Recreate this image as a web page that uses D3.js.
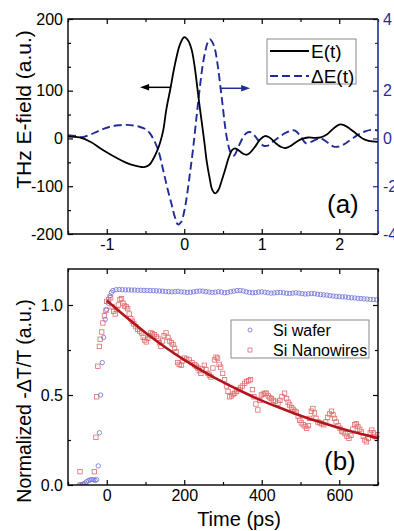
<!DOCTYPE html>
<html>
<head>
<meta charset="utf-8">
<script src="https://cdn.jsdelivr.net/npm/d3@7"></script>
<style>
body { margin: 0; background: #fff; }
svg { display: block; font-family: "Liberation Sans", Arial, sans-serif; }
</style>
</head>
<body>
<div id="chart"></div>
<script>
// ---- panel (a): THz waveform, t in ps ----
const eField = [
  [-1.5, 4], [-1.35, 2], [-1.2, -8], [-1.09, -20], [-0.98, -31], [-0.87, -41], [-0.76, -50],
  [-0.66, -56], [-0.52, -60], [-0.45, -55], [-0.40, -43], [-0.35, -26], [-0.31, -8], [-0.27, 18],
  [-0.23, 62], [-0.18, 103], [-0.14, 139], [-0.10, 170], [-0.055, 197], [0.0, 212], [0.05, 205],
  [0.095, 186], [0.13, 155], [0.16, 118], [0.19, 78], [0.225, 35], [0.26, -8], [0.29, -48],
  [0.33, -85], [0.36, -107], [0.40, -115], [0.44, -108], [0.48, -90], [0.53, -64], [0.57, -42],
  [0.62, -24], [0.66, -21], [0.71, -26], [0.76, -32], [0.81, -34], [0.86, -28], [0.92, -16],
  [0.98, -2], [1.04, 5], [1.10, 2], [1.18, -10], [1.25, -18], [1.31, -20], [1.38, -15],
  [1.45, -7], [1.52, -1], [1.60, 2], [1.68, 1], [1.76, 2], [1.84, 8], [1.92, 20], [2.0, 29],
  [2.06, 28], [2.14, 20], [2.22, 10], [2.30, 0], [2.38, -5], [2.5, -7]
];
const deltaE = [
  [-1.5, 0.14], [-1.4, 0.1], [-1.32, 0.05], [-1.22, 0.15], [-1.13, 0.28], [-1.04, 0.4], [-0.96, 0.49],
  [-0.85, 0.55], [-0.74, 0.57], [-0.65, 0.54], [-0.57, 0.48], [-0.485, 0.36], [-0.44, 0.2],
  [-0.38, -0.14], [-0.33, -0.55], [-0.27, -1.35], [-0.22, -2.05], [-0.16, -2.8], [-0.12, -3.3],
  [-0.08, -3.6], [-0.04, -3.5], [0.0, -3.05], [0.03, -2.5], [0.07, -1.55], [0.115, -0.4],
  [0.16, 0.95], [0.2, 2.1], [0.235, 3.0], [0.27, 3.63], [0.30, 4.0], [0.33, 4.15], [0.36, 4.05],
  [0.395, 3.75], [0.43, 3.1], [0.46, 2.35], [0.495, 1.4], [0.525, 0.55], [0.56, -0.15], [0.6, -0.6],
  [0.64, -0.72], [0.68, -0.5], [0.72, -0.2], [0.76, 0.05], [0.8, 0.22], [0.85, 0.27], [0.9, 0.15],
  [0.96, -0.1], [1.02, -0.3], [1.08, -0.3], [1.15, -0.12], [1.22, 0.05], [1.3, 0.22], [1.38, 0.33],
  [1.43, 0.33], [1.5, 0.1], [1.57, -0.2], [1.63, -0.15], [1.7, -0.05], [1.76, 0.0], [1.84, -0.15],
  [1.92, -0.33], [1.98, -0.35], [2.06, -0.25], [2.15, -0.05], [2.24, 0.15], [2.32, 0.28],
  [2.42, 0.36], [2.5, 0.33]
];
const topXMajor = [-1, 0, 1, 2];
const topXMinor = [-1.5, -0.5, 0.5, 1.5, 2.5];
const leftMajor = [-200, -100, 0, 100, 250];
const leftLabels = ['-200', '-100', '0', '100', '200'];
const leftMinor = [-150, -50, 50, 150, 200];
const rightMajor = [-4, -2, 0, 2, 5];
const rightLabels = ['-4', '-2', '0', '2', '4'];
const rightMinor = [-3, -1, 1, 3, 4];
const topLegend = ['E(t)', '\u0394E(t)'];

// ---- panel (b): normalized -dT/T, t in ps ----
const waferRise = [
  [-67, 0.0], [-61, 0.005], [-56, 0.01], [-52, 0.018], [-47.6, 0.024], [-43, 0.028], [-39, 0.03],
  [-34, 0.03], [-30, 0.025], [-26, 0.03], [-22, 0.106], [-19, 0.29], [-16, 0.5], [-11.6, 0.68],
  [-8, 0.82], [-3.8, 0.92], [-0.5, 0.975], [4, 1.01], [8, 1.05], [12, 1.07]
];
const waferT0 = 16;
const waferStep = 8;
const waferPlateau = [
  1.080, 1.085, 1.086, 1.085, 1.084, 1.084, 1.083, 1.083, 1.082, 1.082, 1.081, 1.081, 1.080, 1.080,
  1.079, 1.078, 1.077, 1.075, 1.074, 1.073, 1.074, 1.076, 1.073, 1.072, 1.070, 1.071, 1.073, 1.076,
  1.078, 1.077, 1.074, 1.072, 1.070, 1.071, 1.074, 1.072, 1.068, 1.070, 1.074, 1.077, 1.080, 1.081,
  1.078, 1.073, 1.070, 1.068, 1.069, 1.072, 1.073, 1.071, 1.068, 1.066, 1.067, 1.069, 1.070, 1.068,
  1.065, 1.064, 1.066, 1.068, 1.066, 1.063, 1.061, 1.062, 1.064, 1.063, 1.060, 1.058, 1.056, 1.055,
  1.052, 1.050, 1.048, 1.047, 1.045, 1.045, 1.042, 1.040, 1.039, 1.037, 1.036, 1.034, 1.033, 1.031,
  1.030, 1.029
];
const nanowires = [
  [-69, 0.074], [-69, 0.0], [-62, 0.0], [-32, 0.074], [-28, 0.265], [-26, 0.49], [-23, 0.66],
  [-19, 0.77], [-17, 0.81], [-13, 0.85], [-10, 0.9], [-6, 0.94], [-2, 0.97],
  [0, 1.02], [5, 1.03], [10, 1.04], [14, 0.99], [18, 0.965], [22, 0.95], [26, 0.975], [30, 1.0],
  [34, 1.03], [38, 1.035], [42, 1.01], [46, 0.995], [50, 0.99], [54, 0.98], [58, 0.95], [62, 0.925],
  [66, 0.91], [70, 0.895], [75, 0.88], [80, 0.865], [85, 0.855], [90, 0.845], [94, 0.82], [98, 0.805],
  [102, 0.795], [106, 0.815], [110, 0.83], [114, 0.845], [118, 0.84], [123, 0.835], [128, 0.825],
  [132, 0.815], [136, 0.79], [140, 0.77], [144, 0.8], [148, 0.83], [153, 0.845], [158, 0.82],
  [162, 0.8], [167, 0.79], [171, 0.78], [175, 0.76], [179, 0.74], [183, 0.68], [187, 0.67],
  [192, 0.665], [196, 0.69], [200, 0.705], [206, 0.7], [213, 0.695], [220, 0.68], [227, 0.668],
  [231, 0.66], [235, 0.65], [239, 0.635], [243, 0.62], [247, 0.645], [252, 0.665], [256, 0.64],
  [261, 0.62], [265, 0.61], [269, 0.6], [274, 0.65], [278, 0.695], [282, 0.71], [286, 0.705],
  [290, 0.67], [294, 0.655], [299, 0.62], [304, 0.585], [309, 0.55], [313, 0.52], [317, 0.49],
  [322, 0.495], [326, 0.505], [330, 0.51], [335, 0.52], [340, 0.53], [345, 0.54], [350, 0.55],
  [356, 0.565], [361, 0.575], [366, 0.58], [371, 0.585], [376, 0.53], [380, 0.49], [385, 0.45],
  [390, 0.417], [395, 0.47], [399, 0.5], [404, 0.505], [408, 0.51], [412, 0.51], [417, 0.495],
  [421, 0.485], [425, 0.48], [430, 0.47], [435, 0.465], [442, 0.455], [447, 0.47], [452, 0.49],
  [459, 0.51], [464, 0.48], [468, 0.46], [472, 0.445], [477, 0.43], [481, 0.42], [485, 0.41],
  [489, 0.405], [494, 0.38], [498, 0.36], [502, 0.345], [507, 0.335], [512, 0.325], [516, 0.315],
  [520, 0.33], [524, 0.37], [528, 0.41], [532, 0.425], [536, 0.4], [540, 0.37], [545, 0.35],
  [550, 0.345], [555, 0.34], [560, 0.335], [565, 0.35], [570, 0.375], [575, 0.395], [580, 0.41],
  [584, 0.39], [588, 0.37], [592, 0.35], [597, 0.33], [602, 0.315], [606, 0.3], [610, 0.295],
  [615, 0.285], [620, 0.27], [625, 0.26], [630, 0.275], [635, 0.31], [640, 0.335], [644, 0.34],
  [648, 0.325], [653, 0.31], [657, 0.295], [662, 0.27], [666, 0.25], [670, 0.24], [675, 0.26],
  [680, 0.29], [684, 0.305], [688, 0.29], [692, 0.27], [696, 0.26], [700, 0.28]
];
const fitCurve = [
  [0, 1.025], [50, 0.933], [100, 0.846], [150, 0.767], [200, 0.695], [250, 0.63], [300, 0.571],
  [350, 0.518], [400, 0.469], [450, 0.426], [500, 0.385], [550, 0.35], [600, 0.317], [650, 0.287],
  [700, 0.26]
];
const botXMajor = [0, 200, 400, 600];
const botXMinor = [-100, 100, 300, 500, 700];
const botYMajor = [0, 0.5, 1.0];
const botYMinor = [0.25, 0.75];
const botLegend = ['Si wafer', 'Si Nanowires'];

const width = 394;
const height = 531;
const blue = '#1f2d9c';
const font = 16;

const svg = d3.select('#chart').append('svg')
    .attr('width', width)
    .attr('height', height);

const pa = {left: 68, right: 378, top: 19, bottom: 234};
const pb = {left: 68, right: 378, top: 269, bottom: 485};

const xa = d3.scaleLinear().domain([-1.5, 2.5]).range([pa.left, pa.right]);
const yaL = d3.scaleLinear().domain([-200, 250]).range([pa.bottom, pa.top]);
const yaR = d3.scaleLinear().domain([-4, 5]).range([pa.bottom, pa.top]);
const xb = d3.scaleLinear().domain([-100, 700]).range([pb.left, pb.right]);
const yb = d3.scaleLinear().domain([0, 1.2]).range([pb.bottom, pb.top]);

// draws a tick set; labels optional
function ticks(axisFn, scale, values, size, at, labels, color) {
  const ax = axisFn(scale).tickValues(values).tickSize(-size).tickPadding(5)
      .tickFormat(labels ? (d, i) => labels[i] : () => '');
  const g = svg.append('g').attr('transform', at).call(ax);
  g.select('.domain').remove();
  g.selectAll('line').attr('stroke', color || '#000').attr('stroke-width', 1.2);
  g.selectAll('text')
      .attr('font-size', font)
      .attr('font-family', '"Liberation Sans", Arial, sans-serif')
      .attr('fill', color || '#000');
  return g;
}

// ---------- panel (a) ----------
const clipA = svg.append('clipPath').attr('id', 'clipA').append('rect')
    .attr('x', pa.left).attr('y', pa.top)
    .attr('width', pa.right - pa.left).attr('height', pa.bottom - pa.top);

const lineL = d3.line().x((d) => xa(d[0])).y((d) => yaL(d[1])).curve(d3.curveCatmullRom.alpha(0.5));
const lineR = d3.line().x((d) => xa(d[0])).y((d) => yaR(d[1])).curve(d3.curveCatmullRom.alpha(0.5));

const ga = svg.append('g').attr('clip-path', 'url(#clipA)');
ga.append('path').datum(deltaE)
    .attr('d', lineR)
    .attr('fill', 'none')
    .attr('stroke', blue)
    .attr('stroke-width', 1.9)
    .attr('stroke-dasharray', '8,4');
ga.append('path').datum(eField)
    .attr('d', lineL)
    .attr('fill', 'none')
    .attr('stroke', '#000')
    .attr('stroke-width', 1.8);

ticks(d3.axisBottom, xa, topXMajor, 5, `translate(0,${pa.bottom})`, topXMajor.map(String));
ticks(d3.axisBottom, xa, topXMinor, 3, `translate(0,${pa.bottom})`);
ticks(d3.axisTop, xa, topXMajor, 5, `translate(0,${pa.top})`);
ticks(d3.axisTop, xa, topXMinor, 3, `translate(0,${pa.top})`);
ticks(d3.axisLeft, yaL, leftMajor, 5, `translate(${pa.left},0)`, leftLabels);
ticks(d3.axisLeft, yaL, leftMinor, 3, `translate(${pa.left},0)`);
ticks(d3.axisRight, yaR, rightMajor, 5, `translate(${pa.right},0)`, rightLabels, blue);
ticks(d3.axisRight, yaR, rightMinor, 3, `translate(${pa.right},0)`, null, blue);

svg.append('path')
    .attr('d', `M${pa.right},${pa.top}H${pa.left}V${pa.bottom}H${pa.right}`)
    .attr('fill', 'none').attr('stroke', '#000').attr('stroke-width', 1.4);
svg.append('line')
    .attr('x1', pa.right).attr('x2', pa.right).attr('y1', pa.top).attr('y2', pa.bottom)
    .attr('stroke', blue).attr('stroke-width', 1.6);

// arrows telling which axis each curve uses
function arrow(x1, x2, y, color) {
  const dir = x2 < x1 ? -1 : 1;
  svg.append('line')
      .attr('x1', x1).attr('x2', x2 - dir * 6).attr('y1', y).attr('y2', y)
      .attr('stroke', color).attr('stroke-width', 1.5);
  svg.append('path')
      .attr('d', `M${x2},${y}L${x2 - dir * 9},${y - 3.2}L${x2 - dir * 9},${y + 3.2}Z`)
      .attr('fill', color);
}
arrow(xa(-0.17), xa(-0.57), yaL(107), '#000');
arrow(xa(0.46), xa(0.85), yaR(2.1), blue);

const legA = svg.append('g');
legA.append('rect')
    .attr('x', 267).attr('y', 39).attr('width', 89).attr('height', 45)
    .attr('fill', '#fff').attr('stroke', '#8a8a8a').attr('stroke-width', 1);
topLegend.forEach((label, i) => {
  const y = 51 + i * 25;
  legA.append('line')
      .attr('x1', 270).attr('x2', 309).attr('y1', y).attr('y2', y)
      .attr('stroke', i === 0 ? '#000' : blue)
      .attr('stroke-width', 1.8)
      .attr('stroke-dasharray', i === 0 ? null : '8,4');
  legA.append('text')
      .attr('x', 311).attr('y', y).attr('dy', '0.35em')
      .attr('font-size', 19)
      .text(label);
});

svg.append('text')
    .attr('x', 327).attr('y', 213)
    .attr('font-size', 26)
    .text('(a)');

svg.append('text')
    .attr('transform', `translate(31,${(pa.top + pa.bottom) / 2 - 17}) rotate(-90)`)
    .attr('text-anchor', 'middle')
    .attr('font-size', 21)
    .text('THz E-field (a.u.)');

// ---------- panel (b) ----------
svg.append('clipPath').attr('id', 'clipB').append('rect')
    .attr('x', pb.left).attr('y', pb.top - 2)
    .attr('width', pb.right - pb.left + 2).attr('height', pb.bottom - pb.top + 2);

const gb = svg.append('g').attr('clip-path', 'url(#clipB)');
const waferPoints = waferRise.concat(waferPlateau.map((v, i) => [waferT0 + i * waferStep, v]));

gb.selectAll('.nw').data(nanowires).enter().append('rect')
    .attr('class', 'nw')
    .attr('x', (d) => xb(d[0]) - 2.2)
    .attr('y', (d) => yb(d[1]) - 2.2)
    .attr('width', 4.4).attr('height', 4.4)
    .attr('fill', 'none')
    .attr('stroke', '#df6d6d')
    .attr('stroke-width', 0.8);

gb.selectAll('.wafer').data(waferPoints).enter().append('circle')
    .attr('class', 'wafer')
    .attr('cx', (d) => xb(d[0]))
    .attr('cy', (d) => yb(d[1]))
    .attr('r', 2.2)
    .attr('fill', 'none')
    .attr('stroke', '#6f6fd8')
    .attr('stroke-width', 0.8);

gb.append('path').datum(fitCurve)
    .attr('d', d3.line().x((d) => xb(d[0])).y((d) => yb(d[1])).curve(d3.curveMonotoneX))
    .attr('fill', 'none')
    .attr('stroke', '#b3151c')
    .attr('stroke-width', 2.6);

ticks(d3.axisBottom, xb, botXMajor, 5, `translate(0,${pb.bottom})`, botXMajor.map(String));
ticks(d3.axisBottom, xb, botXMinor, 3, `translate(0,${pb.bottom})`);
ticks(d3.axisTop, xb, botXMajor, 5, `translate(0,${pb.top})`);
ticks(d3.axisTop, xb, botXMinor, 3, `translate(0,${pb.top})`);
ticks(d3.axisLeft, yb, botYMajor, 5, `translate(${pb.left},0)`, botYMajor.map((d) => d.toFixed(1)));
ticks(d3.axisLeft, yb, botYMinor, 3, `translate(${pb.left},0)`);
ticks(d3.axisRight, yb, botYMajor, 5, `translate(${pb.right},0)`);
ticks(d3.axisRight, yb, botYMinor, 3, `translate(${pb.right},0)`);

svg.append('rect')
    .attr('x', pb.left).attr('y', pb.top)
    .attr('width', pb.right - pb.left).attr('height', pb.bottom - pb.top)
    .attr('fill', 'none').attr('stroke', '#000').attr('stroke-width', 1.4);

const legB = svg.append('g');
legB.append('rect')
    .attr('x', 231).attr('y', 320).attr('width', 138).attr('height', 38)
    .attr('fill', '#fff').attr('stroke', '#8a8a8a').attr('stroke-width', 1);
legB.append('circle')
    .attr('cx', 250).attr('cy', 330).attr('r', 2)
    .attr('fill', 'none').attr('stroke', '#6f6fd8').attr('stroke-width', 0.8);
legB.append('rect')
    .attr('x', 248).attr('y', 348).attr('width', 4).attr('height', 4)
    .attr('fill', 'none').attr('stroke', '#df6d6d').attr('stroke-width', 0.8);
botLegend.forEach((label, i) => {
  legB.append('text')
      .attr('x', 273).attr('y', 330 + i * 20).attr('dy', '0.35em')
      .attr('font-size', 16)
      .text(label);
});

svg.append('text')
    .attr('x', 324).attr('y', 470)
    .attr('font-size', 26)
    .text('(b)');

svg.append('text')
    .attr('transform', `translate(31,401) rotate(-90)`)
    .attr('text-anchor', 'middle')
    .attr('font-size', 19.5)
    .text('Normalized -\u0394T/T (a.u.)');

svg.append('text')
    .attr('x', (pb.left + pb.right) / 2 + 16).attr('y', 526)
    .attr('text-anchor', 'middle')
    .attr('font-size', 20)
    .text('Time (ps)');
</script>
</body>
</html>
